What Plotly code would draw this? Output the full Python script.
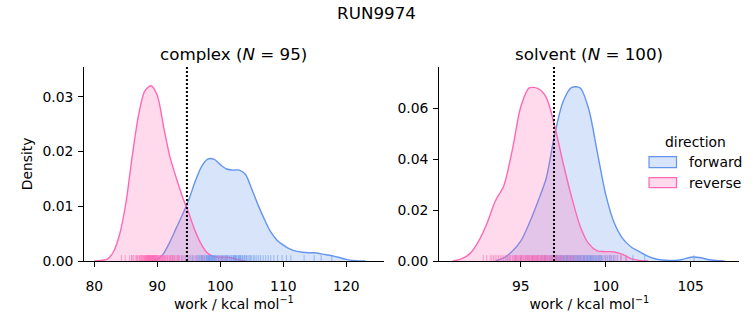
import plotly.graph_objects as go

# ---------------- data ----------------
suptitle = "RUN9974"
panel_titles = ["complex (<i>N</i> = 95)", "solvent (<i>N</i> = 100)"]
directions = ["forward", "reverse"]

# complex panel: KDE curves
cx_fwd = [89, 90, 91, 92, 93, 94, 95, 96, 97, 98, 99, 100, 101, 102, 103, 104, 105, 106,
          107, 108, 109, 110, 111, 112, 113, 114, 115, 116, 117, 118, 119, 120, 121, 122, 123]
cy_fwd = [0.0, 0.0003, 0.0014, 0.0035, 0.0060, 0.0085, 0.0112, 0.0145, 0.0172, 0.0186, 0.0186,
          0.0176, 0.0168, 0.0166, 0.0166, 0.0158, 0.0131, 0.0102, 0.0076, 0.0053, 0.0038, 0.0029,
          0.0022, 0.0018, 0.0016, 0.0015, 0.0015, 0.0013, 0.0011, 0.0009, 0.0006, 0.0003, 0.0001,
          0.00003, 0.0]
cx_rev = [80, 81, 82, 83, 84, 85, 86, 87, 88, 89, 90, 91, 92, 93, 94, 95, 96, 97, 98, 99,
          100, 101, 102, 103, 104]
cy_rev = [0.0, 0.0001, 0.0003, 0.0016, 0.0048, 0.0105, 0.0190, 0.0265, 0.0310, 0.0320, 0.0302,
          0.0245, 0.0190, 0.0152, 0.0117, 0.0087, 0.0055, 0.0030, 0.0014, 0.0008, 0.0007, 0.0007,
          0.0005, 0.0002, 0.0]

# solvent panel: KDE curves
sx_fwd = [93.5, 94, 94.5, 95, 95.5, 96, 96.5, 97, 97.5, 98, 98.5, 99, 99.5, 100, 100.5, 101,
          101.5, 102, 102.5, 103, 103.5, 104, 104.5, 105, 105.5, 106, 106.5, 107]
sy_fwd = [0.0, 0.0012, 0.0038, 0.0078, 0.0148, 0.0232, 0.0325, 0.0498, 0.0628, 0.0682, 0.0680,
          0.0597, 0.0430, 0.0262, 0.0150, 0.0088, 0.0055, 0.0036, 0.0018, 0.0007, 0.0003, 0.0002,
          0.0006, 0.0015, 0.0014, 0.0006, 0.0002, 0.0]
sx_rev = [91, 91.5, 92, 92.5, 93, 93.5, 94, 94.5, 95, 95.5, 96, 96.5, 97, 97.5, 98, 98.5, 99,
          99.5, 100, 100.5, 101, 101.5, 102, 102.5]
sy_rev = [0.0, 0.0008, 0.0028, 0.0075, 0.0145, 0.0235, 0.0295, 0.0435, 0.0605, 0.0680, 0.0678,
          0.0643, 0.0530, 0.0383, 0.0250, 0.0136, 0.0068, 0.0040, 0.0037, 0.0036, 0.0026, 0.0009,
          0.0002, 0.0]

# rug samples (estimated positions of the individual work values)
rug_c_fwd = [92.4, 93.3, 93.9, 94.4, 94.8, 95.2, 95.5, 95.8, 96.1, 96.3, 96.5, 96.7, 96.9, 97.1,
             97.2, 97.4, 97.5, 97.7, 97.8, 97.9, 98.0, 98.1, 98.2, 98.3, 98.4, 98.5, 98.6, 98.7,
             98.8, 98.9, 99.0, 99.1, 99.3, 99.4, 99.6, 99.7, 99.9, 100.1, 100.3, 100.4, 100.6,
             100.8, 100.9, 101.1, 101.2, 101.4, 101.5, 101.7, 101.8, 102.0, 102.1, 102.2, 102.4,
             102.5, 102.6, 102.8, 102.9, 103.0, 103.2, 103.3, 103.5, 103.6, 103.8, 103.9, 104.1,
             104.2, 104.4, 104.6, 104.8, 105.0, 105.3, 105.5, 105.8, 106.1, 106.4, 106.8, 107.2,
             107.6, 108.0, 108.5, 109.1, 109.8, 110.5, 111.2, 113.3, 114.9, 116.0, 117.7,
             97.0, 98.25, 99.2, 100.2, 101.0, 102.3, 103.1]
rug_c_rev = [84.3, 84.9, 85.6, 85.9, 86.0, 86.2, 86.5, 86.7, 86.8, 86.9, 87.1, 87.2, 87.3, 87.4,
             87.5, 87.6, 87.7, 87.8, 87.9, 88.0, 88.05, 88.1, 88.15, 88.2, 88.3, 88.35, 88.4,
             88.45, 88.5, 88.55, 88.6, 88.65, 88.7, 88.75, 88.8, 88.85, 88.9, 88.95, 89.0, 89.05,
             89.1, 89.15, 89.2, 89.25, 89.3, 89.35, 89.4, 89.45, 89.5, 89.55, 89.6, 89.65, 89.7,
             89.8, 89.85, 89.9, 90.0, 90.05, 90.1, 90.2, 90.3, 90.4, 90.5, 90.6, 90.7, 90.8, 90.9,
             91.0, 91.1, 91.2, 91.3, 91.5, 91.6, 91.7, 91.9, 92.0, 92.1, 92.2, 92.4, 92.6, 92.7,
             92.8, 93.0, 93.2, 93.4, 93.5, 93.8, 94.1, 94.5, 95.0, 95.6, 96.3, 97.2, 99.8, 100.6]
rug_s_fwd = [94.2, 94.7, 95.0, 95.3, 95.5, 95.7, 95.9, 96.0, 96.2, 96.3, 96.4, 96.45, 96.5, 96.6,
             96.7, 96.8, 96.85, 96.9, 97.0, 97.05, 97.1, 97.12, 97.15, 97.2, 97.25, 97.3, 97.32,
             97.35, 97.4, 97.45, 97.5, 97.52, 97.55, 97.6, 97.65, 97.7, 97.72, 97.75, 97.8, 97.85,
             97.9, 97.92, 97.95, 98.0, 98.05, 98.1, 98.12, 98.15, 98.2, 98.25, 98.3, 98.32, 98.35,
             98.4, 98.45, 98.5, 98.52, 98.55, 98.6, 98.65, 98.7, 98.72, 98.75, 98.8, 98.85, 98.9,
             98.92, 98.95, 99.0, 99.05, 99.1, 99.12, 99.15, 99.2, 99.25, 99.3, 99.32, 99.4, 99.45,
             99.5, 99.55, 99.6, 99.65, 99.7, 99.75, 99.8, 99.9, 100.0, 100.1, 100.2, 100.25,
             100.35, 100.45, 100.5, 100.7, 100.9, 101.2, 101.6, 102.3, 105.2]
rug_s_rev = [92.8, 93.0, 93.2, 93.3, 93.4, 93.5, 93.6, 93.7, 93.8, 93.9, 94.0, 94.1, 94.2, 94.3,
             94.35, 94.4, 94.5, 94.55, 94.6, 94.65, 94.7, 94.75, 94.8, 94.85, 94.9, 94.95, 95.0,
             95.02, 95.05, 95.1, 95.15, 95.2, 95.25, 95.3, 95.35, 95.4, 95.42, 95.45, 95.5, 95.55,
             95.6, 95.62, 95.65, 95.7, 95.72, 95.75, 95.8, 95.82, 95.85, 95.9, 95.95, 96.0, 96.02,
             96.05, 96.1, 96.15, 96.2, 96.22, 96.25, 96.3, 96.35, 96.4, 96.42, 96.45, 96.5, 96.55,
             96.6, 96.65, 96.7, 96.75, 96.8, 96.85, 96.9, 97.0, 97.05, 97.1, 97.15, 97.2, 97.3,
             97.35, 97.4, 97.5, 97.6, 97.7, 97.8, 97.9, 98.0, 98.1, 98.2, 98.35, 98.5, 98.7, 98.9,
             99.2, 99.6, 100.0, 100.3, 100.6, 100.9, 101.2]

# dotted reference lines (work estimate)
ref_lines = [94.7, 96.96]

left_ticks = [80, 90, 100, 110, 120]
right_ticks = [95, 100, 105]
left_yticks = [0.0, 0.01, 0.02, 0.03]
right_yticks = [0.0, 0.02, 0.04, 0.06]

# ---------------- style ----------------
W, H = 753, 325
FONT = "DejaVu Sans"
BLUE = "#6495ED"
PINK = "#FF69B4"
BLUE_FILL = "rgba(100,149,237,0.25)"
PINK_FILL = "rgba(255,105,180,0.25)"
BLUE_RUG = "rgba(100,149,237,0.6)"
PINK_RUG = "rgba(255,105,180,0.6)"


def px(xp):
    return xp / W


def py(yp):
    return 1 - yp / H


dom_y = [py(261), py(66.7)]
dom_x1 = [px(84.3), px(383.5)]
dom_x2 = [px(439.3), px(739.3)]

fig = go.Figure()

panels = [
    ("x", "y", [(cx_fwd, cy_fwd, BLUE, BLUE_FILL), (cx_rev, cy_rev, PINK, PINK_FILL)]),
    ("x2", "y2", [(sx_fwd, sy_fwd, BLUE, BLUE_FILL), (sx_rev, sy_rev, PINK, PINK_FILL)]),
]
for xa, ya, curves in panels:
    for (xs, ys, col, fcol), name in zip(curves, directions):
        fig.add_trace(go.Scatter(
            x=xs, y=ys, xaxis=xa, yaxis=ya, mode="lines", name=name,
            line=dict(color=col, width=1.4, shape="spline", smoothing=0.8),
            fill="tozeroy", fillcolor=fcol, showlegend=False, hoverinfo="skip"))

shapes = []
rugs = [("x", "y", rug_c_fwd, BLUE_RUG), ("x", "y", rug_c_rev, PINK_RUG),
        ("x2", "y2", rug_s_fwd, BLUE_RUG), ("x2", "y2", rug_s_rev, PINK_RUG)]
for xa, ya, vals, col in rugs:
    for v in vals:
        shapes.append(dict(type="line", xref=xa, yref=ya + " domain", x0=v, x1=v,
                           y0=0, y1=0.03, line=dict(color=col, width=1), layer="above"))

for (xa, ya), v in zip([("x", "y"), ("x2", "y2")], ref_lines):
    shapes.append(dict(type="line", xref=xa, yref=ya + " domain", x0=v, x1=v, y0=0, y1=1,
                       line=dict(color="black", width=2, dash="2px,2px"), layer="above"))

# legend (drawn manually to reproduce the patch style)
legend_items = [(BLUE, BLUE_FILL, 156.7, 167.7, 161.7), (PINK, PINK_FILL, 177.7, 187.7, 182.7)]
annotations = []
for (col, fcol, y0, y1, yc), name in zip(legend_items, directions):
    shapes.append(dict(type="rect", xref="paper", yref="paper", x0=px(649), x1=px(676.5),
                       y0=py(y1), y1=py(y0), fillcolor=fcol, line=dict(color=col, width=1.2)))
    annotations.append(dict(text=name, xref="paper", yref="paper", x=px(687), y=py(yc),
                            xanchor="left", yanchor="middle", showarrow=False,
                            font=dict(size=13.9, family=FONT, color="black")))
annotations.append(dict(text="direction", xref="paper", yref="paper", x=px(695), y=py(141.7),
                        xanchor="center", yanchor="middle", showarrow=False,
                        font=dict(size=13.9, family=FONT, color="black")))

# panel titles
for t, xc in zip(panel_titles, [(84.3 + 383.5) / 2, (439.3 + 739.3) / 2]):
    annotations.append(dict(text=t, xref="paper", yref="paper", x=px(xc), y=py(53.5),
                            xanchor="center", yanchor="middle", showarrow=False,
                            font=dict(size=16.7, family=FONT, color="black")))

axis_common = dict(showline=True, linecolor="black", linewidth=1.1, ticks="outside",
                   ticklen=5, tickwidth=1.1, tickcolor="black", showgrid=False, zeroline=False,
                   tickfont=dict(size=13.9, family=FONT, color="black"), automargin=False)
xtitle = "work / kcal mol<sup>−1</sup>"

fig.update_layout(
    width=W, height=H, margin=dict(l=0, r=0, t=0, b=0),
    paper_bgcolor="white", plot_bgcolor="white",
    font=dict(family=FONT, color="black"),
    title=dict(text=suptitle, x=0.5, xanchor="center", y=py(13), yanchor="middle",
               font=dict(size=16.7, family=FONT, color="black")),
    xaxis=dict(domain=dom_x1, anchor="y", range=[78.41, 125.9], tickvals=left_ticks,
               ticklabelstandoff=7,
               title=dict(text=xtitle, standoff=5, font=dict(size=13.9, family=FONT)),
               **axis_common),
    yaxis=dict(domain=dom_y, anchor="x", range=[0, 0.03548], tickvals=left_yticks,
               tickformat=".2f", ticklabelstandoff=2,
               title=dict(text="Density", standoff=6, font=dict(size=13.9, family=FONT)),
               **axis_common),
    xaxis2=dict(domain=dom_x2, anchor="y2", range=[90.21, 107.86], tickvals=right_ticks,
                ticklabelstandoff=7,
                title=dict(text=xtitle, standoff=5, font=dict(size=13.9, family=FONT)),
                **axis_common),
    yaxis2=dict(domain=dom_y, anchor="x2", range=[0, 0.07635], tickvals=right_yticks,
                tickformat=".2f", ticklabelstandoff=2, **axis_common),
    shapes=shapes,
    annotations=annotations,
    showlegend=False,
)

fig.write_html("out.html")
